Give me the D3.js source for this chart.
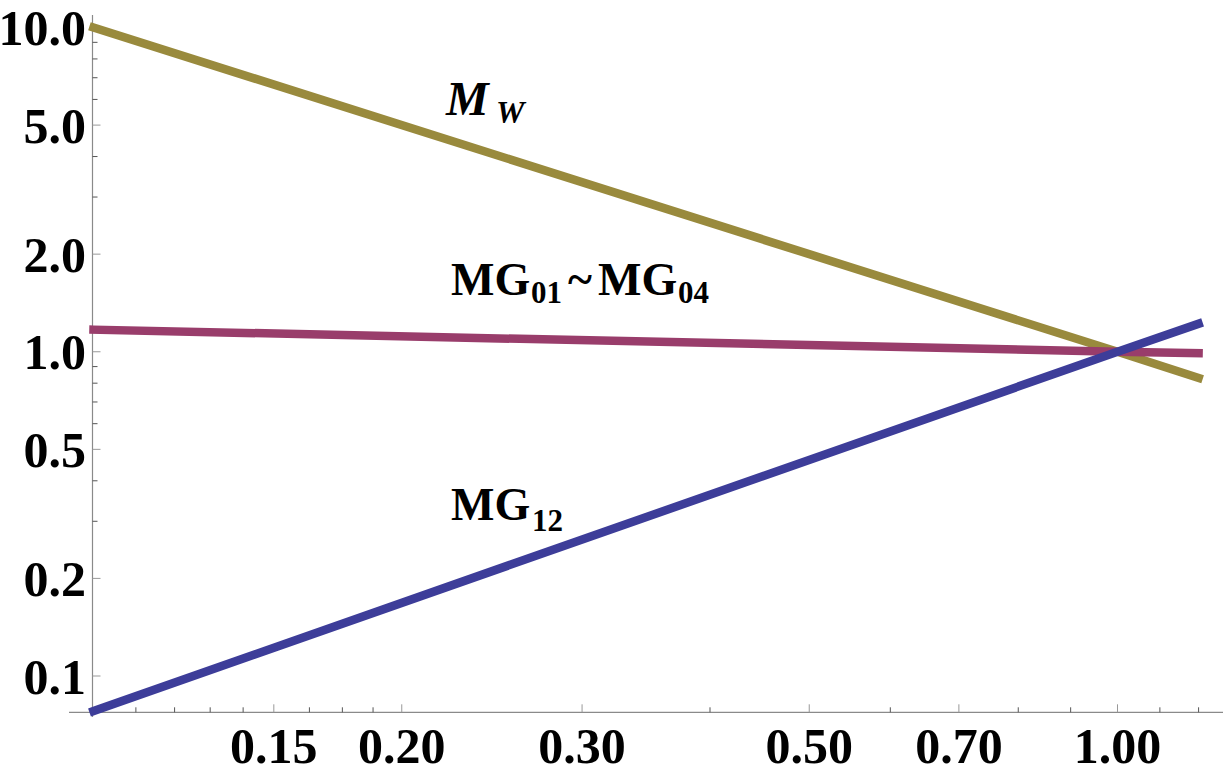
<!DOCTYPE html>
<html>
<head>
<meta charset="utf-8">
<script src="https://cdn.jsdelivr.net/npm/d3@7"></script>
<style>
  html, body { margin: 0; padding: 0; background: #fff; }
  svg { display: block; }
  text { font-family: "Liberation Serif", "Times New Roman", serif; font-weight: bold; fill: #000; }
</style>
</head>
<body>
<svg id="chart" width="1223" height="774"></svg>
<script>
// ---- data ----
const xValues      = [0.1, 1.0, 1.2];
const mwValues     = [10.0, 1.0, 0.83];   // M_W
const mg0104Values = [1.17, 1.0, 0.99];   // MG01 ~ MG04
const mg12Values   = [0.078, 1.0, 1.22];  // MG12

const xMajorTicks = [0.15, 0.20, 0.30, 0.50, 0.70, 1.00];
const xMajorLabels = ["0.15", "0.20", "0.30", "0.50", "0.70", "1.00"];
const xMinorTicks = [0.11, 0.12, 0.13, 0.14, 0.1625, 0.175, 0.1875, 0.4, 0.6, 0.8, 0.9, 1.1, 1.2];
const yMajorTicks = [0.1, 0.2, 0.5, 1.0, 2.0, 5.0, 10.0];
const yMajorLabels = ["0.1", "0.2", "0.5", "1.0", "2.0", "5.0", "10.0"];
const yMinorTicks = [0.3, 0.4, 0.6, 0.7, 0.8, 0.9, 3, 4, 6, 7, 8, 9];

const seriesColors = { mw: "#998a3d", mg0104: "#993d6b", mg12: "#3d3d99" };

// ---- scales ----
const svg = d3.select("#chart");
const x = d3.scaleLog().domain([0.1, 1.0]).range([93.5, 1117.5]);
const y = d3.scaleLog().domain([0.1, 10]).range([676, 27.5]);

const axisY = 712.3;   // x-axis position
const axisX = 92.5;    // y-axis position

// ---- axes lines ----
svg.append("line").attr("x1", 69).attr("x2", 1223).attr("y1", axisY).attr("y2", axisY)
  .attr("stroke", "#8a8a8a").attr("stroke-width", 1.2);
svg.append("line").attr("x1", axisX).attr("x2", axisX).attr("y1", 15).attr("y2", 717)
  .attr("stroke", "#8a8a8a").attr("stroke-width", 1.2);

// x ticks
svg.append("g").selectAll("line.xmin").data(xMinorTicks).join("line")
  .attr("x1", d => x(d)).attr("x2", d => x(d)).attr("y1", axisY).attr("y2", axisY - 5)
  .attr("stroke", "#555").attr("stroke-width", 1);
svg.append("g").selectAll("line.xmaj").data(xMajorTicks).join("line")
  .attr("x1", d => x(d)).attr("x2", d => x(d)).attr("y1", axisY).attr("y2", axisY - 8)
  .attr("stroke", "#999").attr("stroke-width", 1);
svg.append("g").selectAll("text").data(xMajorTicks).join("text")
  .attr("x", d => x(d)).attr("y", 763)
  .attr("text-anchor", "middle").attr("font-size", 50)
  .text((d, i) => xMajorLabels[i]);

// y ticks
svg.append("g").selectAll("line.ymin").data(yMinorTicks).join("line")
  .attr("x1", axisX).attr("x2", axisX + 5).attr("y1", d => y(d)).attr("y2", d => y(d))
  .attr("stroke", "#555").attr("stroke-width", 1);
svg.append("g").selectAll("line.ymaj").data(yMajorTicks).join("line")
  .attr("x1", axisX).attr("x2", axisX + 8).attr("y1", d => y(d)).attr("y2", d => y(d))
  .attr("stroke", "#999").attr("stroke-width", 1);
svg.append("g").selectAll("text").data(yMajorTicks).join("text")
  .attr("x", 86).attr("y", d => y(d)).attr("dy", "0.35em")
  .attr("text-anchor", "end").attr("font-size", 50)
  .text((d, i) => yMajorLabels[i]);

// ---- lines ----
const line = d3.line().x(d => x(d[0])).y(d => y(d[1]));
const series = [
  { key: "mw", values: mwValues },
  { key: "mg0104", values: mg0104Values },
  { key: "mg12", values: mg12Values }
];
svg.append("g").selectAll("path").data(series).join("path")
  .attr("d", s => line(xValues.map((xv, i) => [xv, s.values[i]])))
  .attr("fill", "none")
  .attr("stroke", s => seriesColors[s.key])
  .attr("stroke-width", 8.5)
  .attr("stroke-linecap", "square");

// ---- labels ----
const mw = svg.append("text").attr("y", 115);
mw.append("tspan").attr("x", 446).attr("font-size", 48).attr("font-style", "italic").text("M");
mw.append("tspan").attr("x", 496).attr("dy", 8).attr("font-size", 32).attr("font-style", "italic").text("W");

const mg = svg.append("text").attr("y", 295);
mg.append("tspan").attr("x", 451).attr("font-size", 46).text("MG");
mg.append("tspan").attr("x", 531).attr("dy", 8).attr("font-size", 31).text("01");
mg.append("tspan").attr("x", 568).attr("dy", -8).attr("font-size", 46).text("~");
mg.append("tspan").attr("x", 598).attr("font-size", 46).text("MG");
mg.append("tspan").attr("x", 678).attr("dy", 8).attr("font-size", 31).text("04");

const mg12 = svg.append("text").attr("y", 520);
mg12.append("tspan").attr("x", 451).attr("font-size", 46).text("MG");
mg12.append("tspan").attr("x", 532).attr("dy", 11).attr("font-size", 31).text("12");
</script>
</body>
</html>
